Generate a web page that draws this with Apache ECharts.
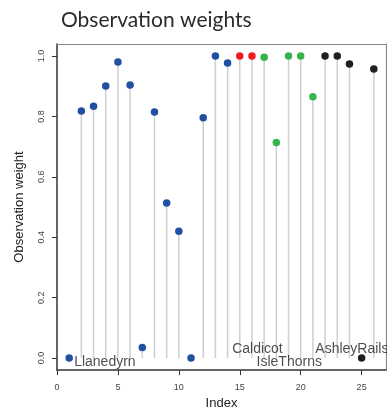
<!DOCTYPE html>
<html>
<head>
<meta charset="utf-8">
<script src="https://cdn.jsdelivr.net/npm/echarts@6/dist/echarts.min.js"></script>
<style>
  html, body { margin: 0; padding: 0; background: #fff; }
  #chart { width: 387px; height: 415px; }
</style>
</head>
<body>
<div id="chart"></div>
<script>
// Observation weights per site index, grouped by location
var indices = [1,2,3,4,5,6,7,8,9,10,11,12,13,14,15,16,17,18,19,20,21,22,23,24,25,26];
var weights = [0.00,0.818,0.834,0.901,0.980,0.904,0.035,0.815,0.513,0.420,0.00,0.796,1.00,0.977,
               1.00,1.00,
               0.996,0.714,1.00,1.00,0.865,
               1.00,1.00,0.974,0.00,0.957];
var groups  = ['Llanedyrn','Llanedyrn','Llanedyrn','Llanedyrn','Llanedyrn','Llanedyrn','Llanedyrn',
               'Llanedyrn','Llanedyrn','Llanedyrn','Llanedyrn','Llanedyrn','Llanedyrn','Llanedyrn',
               'Caldicot','Caldicot',
               'IsleThorns','IsleThorns','IsleThorns','IsleThorns','IsleThorns',
               'AshleyRails','AshleyRails','AshleyRails','AshleyRails','AshleyRails'];
var groupColors = { Llanedyrn: '#2150a3', Caldicot: '#ee1c25', IsleThorns: '#35b44a', AshleyRails: '#221e1f' };

// Site name labels: text centre in index/weight coordinates
var labelNames = ['Llanedyrn','Caldicot','IsleThorns','AshleyRails'];
var labelX     = [3.93, 16.45, 19.06, 24.2];
var labelY     = [-0.012, 0.028, -0.012, 0.028];

var xTicks = [0,5,10,15,20,25];
var yTicks = [0,0.2,0.4,0.6,0.8,1.0];

var pts = indices.map(function (x, i) {
  return { value: [x, weights[i]], itemStyle: { color: groupColors[groups[i]], opacity: 1 } };
});
var labelData = labelNames.map(function (n, i) { return { name: n, value: [labelX[i], labelY[i]] }; });

var chart = echarts.init(document.getElementById('chart'), null, { renderer: 'canvas' });
var axisFont = "'Liberation Sans', Arial, sans-serif";

chart.setOption({
  animation: false,
  title: {
    text: 'Observation weights',
    left: 56, top: 5,
    textStyle: { fontFamily: 'Lato, sans-serif', fontSize: 21, fontWeight: 'normal', color: '#2b2b2b' }
  },
  grid: { left: 57, right: 1, top: 44, bottom: 42 },
  xAxis: [{
    type: 'value', min: 0, max: 27, position: 'bottom',
    name: 'Index', nameLocation: 'middle', nameGap: 26,
    nameTextStyle: { fontFamily: axisFont, fontSize: 13, color: '#222' },
    axisLine: { show: true, onZero: false, lineStyle: { color: '#333', width: 1.5 } },
    axisTick: { show: true, length: 5, customValues: xTicks, lineStyle: { color: '#333' } },
    axisLabel: { customValues: xTicks, margin: 13, fontFamily: axisFont, fontSize: 9, color: '#444' },
    splitLine: { show: false }
  }, {
    type: 'value', min: 0, max: 27, position: 'top',
    axisLine: { show: true, onZero: false, lineStyle: { color: '#888', width: 1.2 } },
    axisTick: { show: false }, axisLabel: { show: false }, splitLine: { show: false }
  }],
  yAxis: [{
    type: 'value', min: -0.04, max: 1.04, position: 'left',
    name: 'Observation weight', nameLocation: 'middle', nameGap: 31, nameRotate: 90,
    nameTextStyle: { fontFamily: axisFont, fontSize: 13, color: '#222' },
    axisLine: { show: true, onZero: false, lineStyle: { color: '#333', width: 1.5 } },
    axisTick: { show: true, length: 5, customValues: yTicks, lineStyle: { color: '#333' } },
    axisLabel: {
      customValues: yTicks, rotate: 90, margin: 11, fontFamily: axisFont, fontSize: 9, color: '#444',
      formatter: function (v) { return v.toFixed(1); }
    },
    splitLine: { show: false }
  }, {
    type: 'value', min: -0.04, max: 1.04, position: 'right',
    axisLine: { show: true, onZero: false, lineStyle: { color: '#888', width: 1.2 } },
    axisTick: { show: false }, axisLabel: { show: false }, splitLine: { show: false }
  }],
  series: [{
    // vertical stems from zero up to each weight
    type: 'custom',
    xAxisIndex: 0, yAxisIndex: 0,
    data: indices.map(function (x, i) { return [x, weights[i]]; }),
    renderItem: function (params, api) {
      var p0 = api.coord([api.value(0), 0]);
      var p1 = api.coord([api.value(0), api.value(1)]);
      return {
        type: 'line',
        shape: { x1: p0[0], y1: p0[1], x2: p1[0], y2: p1[1] },
        style: { stroke: '#cfcfcf', lineWidth: 1.5 }
      };
    },
    z: 1, silent: true
  }, {
    type: 'scatter',
    xAxisIndex: 0, yAxisIndex: 0,
    symbol: 'circle', symbolSize: 7.5,
    data: pts, z: 3, silent: true
  }, {
    type: 'scatter',
    xAxisIndex: 0, yAxisIndex: 0,
    symbolSize: 0,
    data: labelData,
    label: {
      show: true, position: 'inside', formatter: '{b}',
      fontFamily: axisFont, fontSize: 14, color: '#222'
    },
    z: 4, silent: true
  }]
});
</script>
</body>
</html>
